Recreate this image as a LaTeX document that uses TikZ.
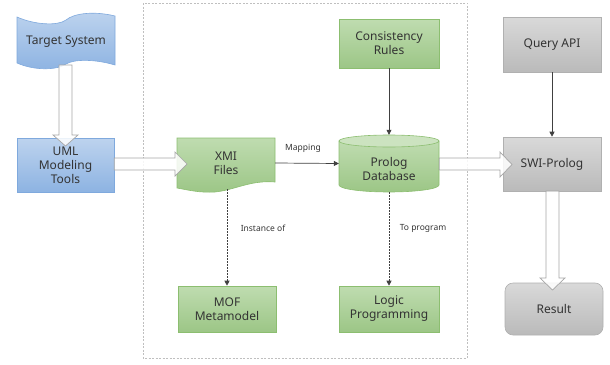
\documentclass[tikz,border=0pt]{standalone}
\usepackage{fontspec}
\setmainfont{Noto Sans}
\usetikzlibrary{arrows.meta}

\definecolor{txt}{HTML}{333333}
\definecolor{blueT}{HTML}{BDD3EE}
\definecolor{blueB}{HTML}{8DB3E2}
\definecolor{blueE}{HTML}{7FA9DD}
\definecolor{greenT}{HTML}{BFDCB0}
\definecolor{greenB}{HTML}{9CC686}
\definecolor{greenE}{HTML}{8CBE70}
\definecolor{grayT}{HTML}{D9D9D9}
\definecolor{grayB}{HTML}{BABABA}
\definecolor{grayE}{HTML}{B0B0B0}
\definecolor{frameC}{HTML}{BFBFBF}
\definecolor{hollowE}{HTML}{A6A6A6}
\definecolor{lineC}{HTML}{404040}

\tikzset{
  lbl/.style={font=\fontsize{12}{15}\selectfont, text=txt, align=center},
  small/.style={font=\fontsize{8.5}{10}\selectfont, text=txt},
  bluebox/.style={lbl, draw=blueE, top color=blueT, bottom color=blueB, line width=0.6pt},
  greenbox/.style={lbl, draw=greenE, top color=greenT, bottom color=greenB, line width=0.6pt},
  graybox/.style={lbl, draw=grayE, top color=grayT, bottom color=grayB, line width=0.6pt},
  hollow/.style={draw=hollowE, fill=white, fill opacity=0.85, line width=0.7pt, line join=miter},
  conn/.style={draw=lineC, line width=0.7pt, -{Triangle[length=5pt,width=5pt]}},
  dconn/.style={conn, dash pattern=on 1.6pt off 1.4pt},
}

\begin{document}
\begin{tikzpicture}[x=1pt, y=-1pt]
\useasboundingbox (0,0) rectangle (610,364);

% dashed frame around the modelling part
\draw[frameC, line width=0.7pt, dash pattern=on 2pt off 1.5pt] (143,3) rectangle (467,358);

% Target System (tape shape)
\shade[top color=blueT, bottom color=blueB, draw=blueE, line width=0.6pt]
  (17,17) .. controls (35,25) and (58,26) .. (66,20)
          .. controls (74,13) and (95,11) .. (115,16)
  -- (115,65) .. controls (95,59) and (74,59) .. (66,64)
          .. controls (58,70) and (35,71) .. (17,63) -- cycle;
\node[lbl] (ts) at (66,41.5) {Target System};

% XMI Files (document shape)
\shade[top color=greenT, bottom color=greenB, draw=greenE, line width=0.6pt]
  (177,138) -- (275,138) -- (275,182)
  .. controls (250,180) and (235,190) .. (215,192)
  .. controls (200,193) and (188,190) .. (177,188) -- cycle;
\node[lbl, minimum width=98pt, minimum height=50pt] (xmi) at (226,163) {XMI\\[-1pt]Files};

% Prolog Database (cylinder)
\shade[top color=greenT, bottom color=greenB, draw=greenE, line width=0.6pt]
  (339,141) -- (339,185)
  .. controls (339,188.9) and (361.4,192) .. (389,192)
  .. controls (416.6,192) and (439,188.9) .. (439,185)
  -- (439,141) -- cycle;
\draw[greenE, fill=greenT!80!white, line width=0.6pt] (389,141) ellipse [x radius=50, y radius=6];
\node[minimum width=100pt, minimum height=57pt] (db) at (389,163.5) {};
\node[lbl] (dbtext) at (389,168.5) {Prolog\\[-1pt]Database};

% plain boxes
\node[bluebox, minimum width=97pt, minimum height=54pt] (uml) at (65.5,165) {UML\\[-1pt]Modeling\\[-1pt]Tools};
\node[greenbox, minimum width=100pt, minimum height=49pt] (cr) at (389,43.5) {Consistency\\[-1pt]Rules};
\node[greenbox, minimum width=98pt, minimum height=46pt] (mof) at (227,309) {MOF\\[-1pt]Metamodel};
\node[greenbox, minimum width=100pt, minimum height=46pt] (lp) at (389,309) {Logic\\[-1pt]Programming};
\node[graybox, minimum width=98pt, minimum height=55pt] (qa) at (552,44.5) {Query API};
\node[graybox, minimum width=98pt, minimum height=54pt] (swi) at (552,164) {SWI-Prolog};
\node[graybox, rounded corners=8pt, minimum width=98pt, minimum height=52pt] (res) at (554,309) {Result};

% hollow block arrows
\draw[hollow] (59,65) -- (72,65) -- (72,135) -- (78,135) -- (65.5,146) -- (53,135) -- (59,135) -- cycle;
\draw[hollow] (uml.east |- 0,158) -- (175,158) -- (175,152) -- (187,164) -- (175,176) -- (175,170) -- (uml.east |- 0,170) -- cycle;
\draw[hollow] (db.east |- 0,158) -- (500,158) -- (500,152) -- (512,164.5) -- (500,177) -- (500,170) -- (db.east |- 0,170) -- cycle;
\draw[hollow] (546,191) -- (559,191) -- (559,278) -- (565,278) -- (552.5,290) -- (540,278) -- (546,278) -- cycle;

% connectors
\draw[conn] (cr.south) -- (db.north);
\draw[conn] (qa.south) -- (swi.north);
\draw[conn] (xmi.east) -- (db.west);
\draw[dconn] (227,189) -- (mof.north);
\draw[dconn] (389,192) -- (lp.north);

% connector labels
\node[small] (lmap) at (303,148) {Mapping};
\node[small] (linst) at (263,228) {Instance of};
\node[small] (lprog) at (423,228) {To program};
\end{tikzpicture}
\end{document}
